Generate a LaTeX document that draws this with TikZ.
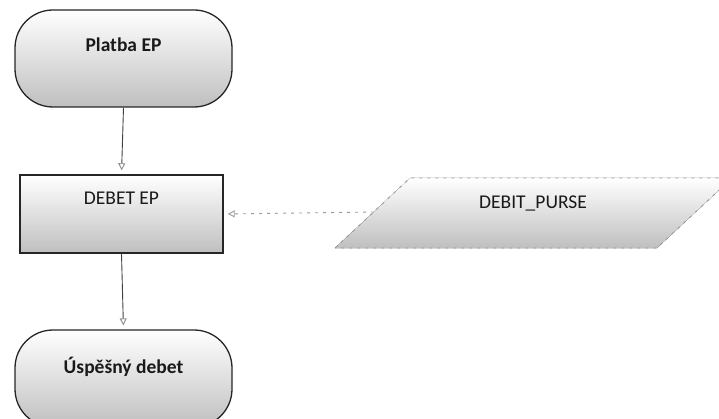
\documentclass[tikz,border=0pt]{standalone}
\usepackage{fontspec}
\setmainfont{Carlito}
\usetikzlibrary{arrows.meta}
\begin{document}
\begin{tikzpicture}[x=1pt,y=1pt,
  shade/.style={top color=white, middle color=white, bottom color=black!25},
  term/.style={shade, draw=black!85, line width=1.3pt, rounded corners=38pt,
    minimum width=217pt, minimum height=97pt, text height=12.5pt,
    font=\bfseries\fontsize{19.5}{22}\selectfont, text=black!90},
  proc/.style={shade, draw=black!85, line width=1.4pt,
    minimum width=203pt, minimum height=78pt, text height=12.5pt, text depth=32pt,
    font=\fontsize{19.5}{22}\selectfont, text=black!90},
  flow/.style={draw=black!75, line width=0.9pt, shorten >=4pt,
    -{Triangle[open,length=7pt,width=7pt,fill=white,color=black!45]}},
  dflow/.style={draw=black!40, line width=0.9pt, dash pattern=on 3pt off 5pt, shorten >=4pt,
    -{Triangle[open,length=7pt,width=7pt,fill=white,color=black!40]}},
  lbl/.style={font=\fontsize{19.5}{22}\selectfont, text=black!90}
]
\useasboundingbox (0,0) rectangle (719,418);
\clip (0,0) rectangle (719,418);

\node[term, text depth=27pt] (platba) at (123.5,359.5) {Platba EP};
\node[proc] (debet) at (121.5,204) {DEBET EP};
\node[term, text depth=23pt] (uspech) at (123.5,39.5) {Úspěšný debet};

% parallelogram (data)
\coordinate (pbl) at (335,170);
\coordinate (ptl) at (410,240);
\coordinate (ptr) at (732,240);
\coordinate (pbr) at (657,170);
\fill[shade] (pbl) -- (ptl) -- (ptr) -- (pbr) -- cycle;
\draw[draw=black!40, line width=0.9pt, dash pattern=on 3pt off 5pt] (pbl) -- (ptl) -- (ptr) -- (pbr) -- cycle;
\node[lbl] (purse) at (533,215) {DEBIT\_PURSE};
\coordinate (pin) at (374,206);

\draw[flow] (platba.south) -- (debet.north);
\draw[flow] (debet.south) -- (uspech.north);
\draw[dflow] (pin) -- (debet.east);
\end{tikzpicture}
\end{document}
